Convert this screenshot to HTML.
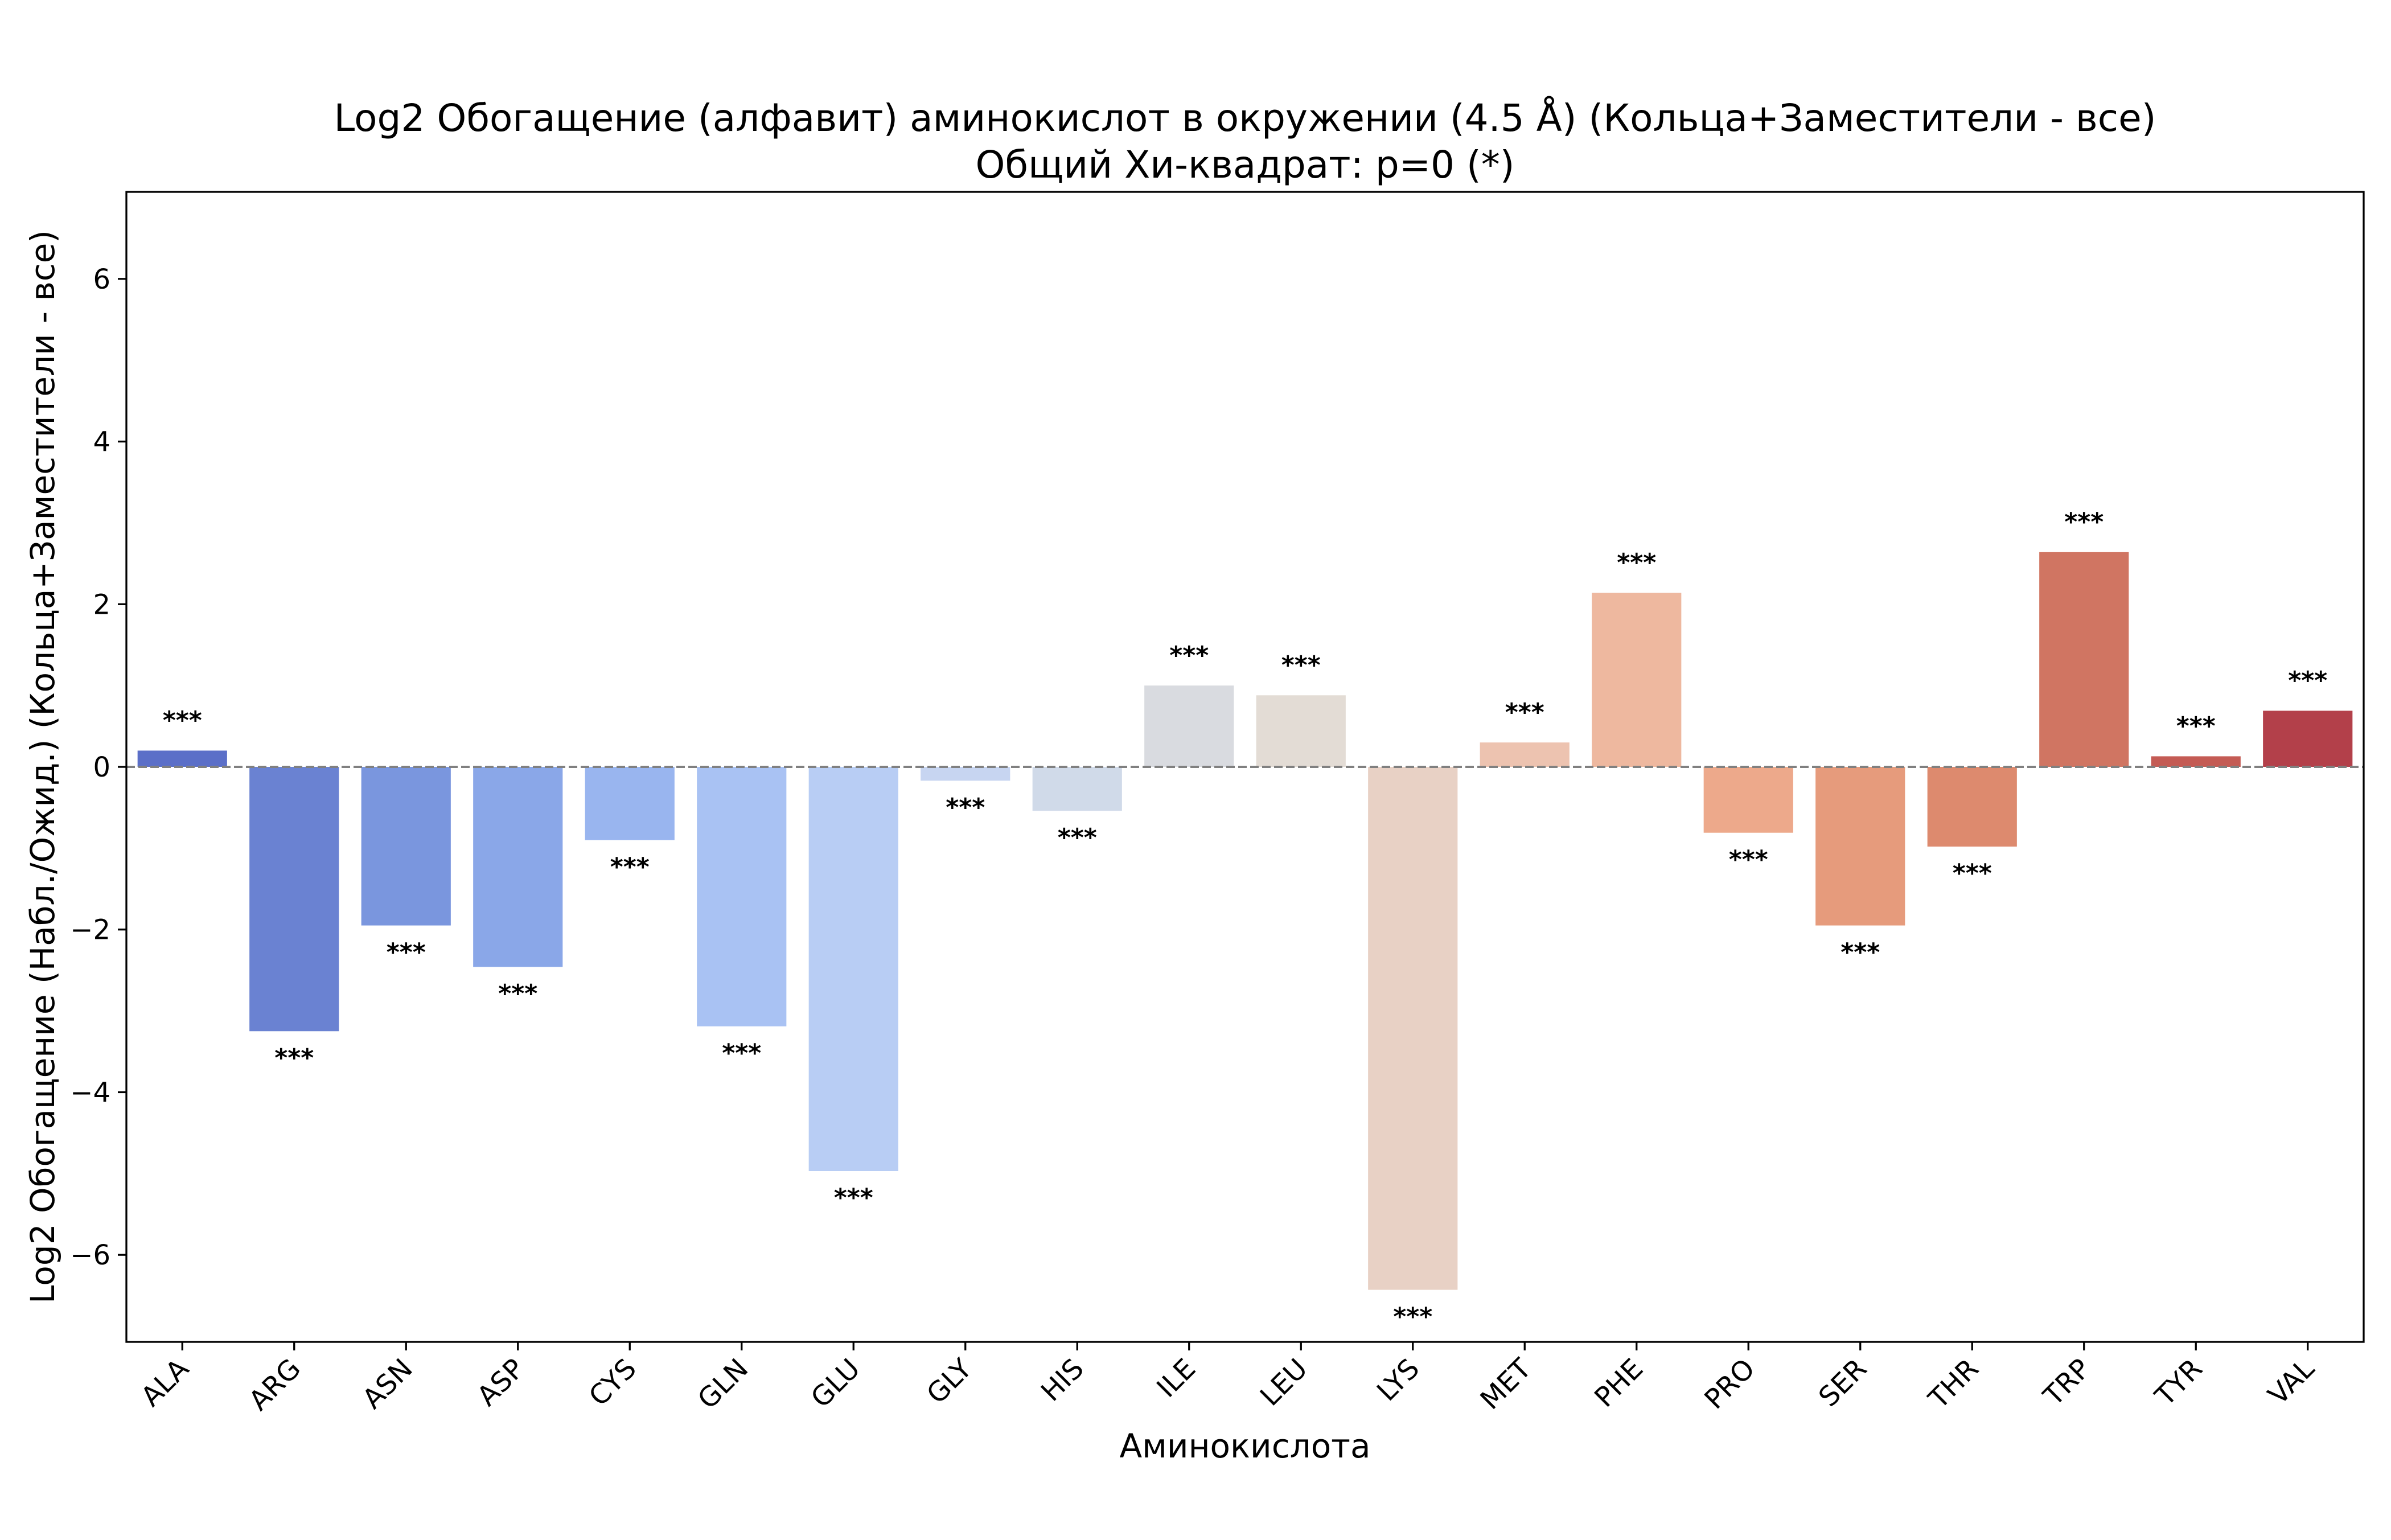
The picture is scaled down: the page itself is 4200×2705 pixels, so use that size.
<!DOCTYPE html>
<html><head><meta charset="utf-8"><style>
html,body{margin:0;padding:0;background:#fff;}
svg text{font-family:"DejaVu Sans","Liberation Sans",sans-serif;}
</style></head><body>
<svg id="chart" width="4200" height="2700" viewBox="0 0 4200 2700" xmlns="http://www.w3.org/2000/svg">
<rect width="4200" height="2700" fill="#fff"/>
<text x="2187" y="230" font-size="66" text-anchor="middle">Log2 Обогащение (алфавит) аминокислот в окружении (4.5 Å) (Кольца+Заместители - все)</text>
<text x="2187" y="312" font-size="66" text-anchor="middle">Общий Хи-квадрат: p=0 (*)</text>
<g id="plot"></g>
<text x="2187" y="2560" font-size="58" text-anchor="middle">Аминокислота</text>
<text transform="translate(95,1347) rotate(-90)" font-size="58" text-anchor="middle">Log2 Обогащение (Набл./Ожид.) (Кольца+Заместители - все)</text>
</svg>
<script>
const categories = ["ALA","ARG","ASN","ASP","CYS","GLN","GLU","GLY","HIS","ILE","LEU","LYS","MET","PHE","PRO","SER","THR","TRP","TYR","VAL"];
const values = [0.2,-3.25,-1.95,-2.46,-0.9,-3.19,-4.97,-0.17,-0.54,1.0,0.88,-6.43,0.3,2.14,-0.81,-1.95,-0.98,2.64,0.13,0.69];
const significance = ["***","***","***","***","***","***","***","***","***","***","***","***","***","***","***","***","***","***","***","***"];
const barColors = ["#5b6fc8","#6a82d2","#7a96de","#8aa7e8","#99b5ef","#a9c2f3","#b8cdf4","#c7d5f1","#d0dae9","#d9dbe0","#e3dcd5","#e8d1c5","#edc3b0","#eeb89f","#eda98b","#e69b7c","#dd8a6e","#d07562","#c45b54","#b3404a"];
const yTicks = [-6,-4,-2,0,2,4,6];
const yMin = -7.07, yMax = 7.07;
const L=222,R=4152,T=337,B=2357;
const NS="http://www.w3.org/2000/svg";
const g=document.getElementById('plot');
function xS(i){return L+(i+0.5)*(R-L)/categories.length;}
function yS(v){return B-(v-yMin)/(yMax-yMin)*(B-T);}
const bw=0.8*(R-L)/categories.length;
function mk(tag,attrs){const e=document.createElementNS(NS,tag);for(const k in attrs)e.setAttribute(k,attrs[k]);g.appendChild(e);return e;}
values.forEach((v,i)=>{
  const y0=yS(0),y1=yS(v);
  const r=mk('rect',{x:xS(i)-bw/2,y:Math.min(y0,y1),width:bw,height:Math.abs(y1-y0),fill:barColors[i]});
  
  
  const sy = v>=0 ? yS(v+0.38)+16 : yS(v-0.32)+16;
  const t=mk('text',{x:xS(i),y:sy,'font-size':44,'font-weight':'bold','text-anchor':'middle'});
  t.textContent=significance[i];
  
  
});
const zl=mk('line',{x1:L,x2:R,y1:yS(0),y2:yS(0),stroke:'#808080','stroke-width':4,'stroke-dasharray':'15 6'});


const fr=mk('rect',{x:L,y:T,width:R-L,height:B-T,fill:'none',stroke:'#000','stroke-width':3.3});


yTicks.forEach(v=>{
  const y=yS(v);
  const tk=mk('line',{x1:L-15,x2:L,y1:y,y2:y,stroke:'#000','stroke-width':3.3});
  
  
  const t=mk('text',{x:L-28,y:y+17,'font-size':48,'text-anchor':'end'});
  t.textContent=(v<0?'\u2212'+(-v):String(v));
  
  
});
categories.forEach((c,i)=>{
  const x=xS(i);
  const tk=mk('line',{x1:x,x2:x,y1:B,y2:B+15,stroke:'#000','stroke-width':3.3});
  
  
  const t=mk('text',{x:0,y:0,'font-size':48,'text-anchor':'end',transform:`translate(${x+14},${B+50}) rotate(-45)`});
  t.textContent=c;
  
  
});
</script>
</body></html>
